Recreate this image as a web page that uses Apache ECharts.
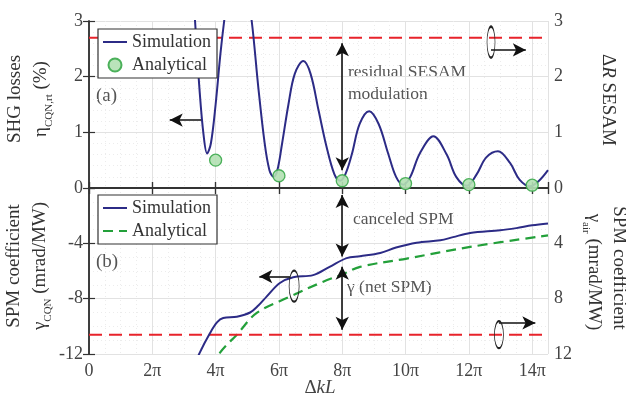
<!DOCTYPE html>
<html>
<head>
<meta charset="utf-8">
<script src="https://cdn.jsdelivr.net/npm/echarts@6/dist/echarts.min.js"></script>
<style>
  html, body { margin: 0; padding: 0; background: #fff; }
  #myChart { width: 626px; height: 400px; }
</style>
</head>
<body>
<div id="myChart"></div>
<script>
// x values are in units of pi (Delta k L / pi)
var xTicks = [0, 2, 4, 6, 8, 10, 12, 14];

// panel (a): SHG losses (%)
var shgSim = [
  [3.15, 4.8], [3.35, 3.0], [3.5, 1.7], [3.62, 0.95], [3.73, 0.62], [3.85, 0.8],
  [4.0, 1.5], [4.15, 2.4], [4.27, 3.0], [4.5, 4.0], [4.7, 4.3], [4.9, 3.9],
  [5.14, 3.0], [5.35, 1.8], [5.55, 0.8], [5.7, 0.32], [5.83, 0.2], [5.95, 0.32],
  [6.1, 0.8], [6.3, 1.5], [6.5, 2.05], [6.77, 2.28], [7.0, 2.05], [7.25, 1.4],
  [7.5, 0.75], [7.75, 0.25], [7.93, 0.13], [8.1, 0.25], [8.3, 0.6], [8.55, 1.15],
  [8.85, 1.38], [9.15, 1.15], [9.45, 0.62], [9.7, 0.2], [9.93, 0.06], [10.15, 0.2],
  [10.45, 0.62], [10.88, 0.93], [11.3, 0.6], [11.6, 0.2], [11.94, 0.04], [12.25, 0.25],
  [12.55, 0.55], [12.92, 0.66], [13.3, 0.45], [13.6, 0.15], [13.93, 0.03], [14.2, 0.12],
  [14.5, 0.32]
];
var shgAna = [[4, 0.5], [6, 0.22], [8, 0.13], [10, 0.08], [12, 0.06], [14, 0.05]];
var sesamTop = 2.7;

// panel (b): SPM coefficient (mrad/MW)
var spmSim = [
  [3.2, -13.5], [3.5, -11.9], [3.82, -10.5], [4.05, -9.7], [4.24, -9.4], [4.67, -9.3],
  [5.09, -9.0], [5.35, -8.5], [5.61, -7.85], [6.03, -6.87], [6.45, -6.45], [7.08, -6.3],
  [7.6, -5.7], [8.14, -5.07], [8.56, -4.93], [9.2, -4.7], [9.7, -4.3], [10.35, -3.95],
  [11.1, -3.78], [11.5, -3.55], [12.04, -3.25], [12.99, -3.06], [13.5, -2.9], [14.0, -2.7],
  [14.5, -2.56]
];
var spmAna = [
  [3.9, -13.0], [4.14, -11.9], [4.67, -10.6], [5.3, -9.03], [6.35, -7.85], [7.4, -6.77],
  [8.0, -6.25], [8.56, -5.7], [10.04, -5.1], [12.04, -4.26], [14.5, -3.42]
];
var sesamBottom = 10.6;

var serif = 'Liberation Serif';
var navy = '#2c2b86';
var green = '#23a03a';
var red = '#e8232b';

function piLabel(v) {
  return v === 0 ? '0' : v + 'π';
}

function xAx(grid, pos, labels) {
  return {
    type: 'value', gridIndex: grid, position: pos, min: 0, max: 14.5, interval: 2,
    axisLine: { show: true, lineStyle: { color: '#333', width: 1.5 } },
    axisTick: { show: true, inside: true, length: 6, lineStyle: { color: '#333', width: 1.2 } },
    axisLabel: { show: labels, formatter: piLabel, fontFamily: serif, fontSize: 18, color: '#444', margin: 8, showMaxLabel: false },
    splitLine: { show: pos === 'bottom', lineStyle: { color: '#e2e2e2', width: 1 } },
    minorTick: { show: pos === 'bottom', splitNumber: 4, length: 0 },
    minorSplitLine: { show: pos === 'bottom', lineStyle: { color: '#ececec', type: [1, 3] } }
  };
}

function yAx(grid, pos, min, max, inverse, hideMin, hideMax) {
  return {
    type: 'value', gridIndex: grid, position: pos, min: min, max: max, interval: grid === 0 ? 1 : 4,
    inverse: inverse,
    axisLine: { show: true, lineStyle: { color: '#333', width: 1.5 } },
    axisTick: { show: true, inside: true, length: 6, lineStyle: { color: '#333', width: 1.2 } },
    axisLabel: { fontFamily: serif, fontSize: 18, color: '#444', margin: 6, showMinLabel: !hideMin, showMaxLabel: !hideMax },
    splitLine: { show: pos === 'left', lineStyle: { color: '#e2e2e2', width: 1 } },
    minorTick: { show: pos === 'left', splitNumber: grid === 0 ? 5 : 4, length: 0 },
    minorSplitLine: { show: pos === 'left', lineStyle: { color: '#ececec', type: [1, 3] } }
  };
}

var arrowLine = { color: '#111', width: 1.6, type: 'solid' };
var ellipseStyle = { color: 'rgba(0,0,0,0)', borderColor: '#222', borderWidth: 1.3 };

var subStyle = { fontFamily: serif, fontSize: 11, fill: '#333', verticalAlign: 'bottom', padding: [12, 0, 0, 0] };
var mainStyle = { fontFamily: serif, fontSize: 19, fill: '#333', verticalAlign: 'top', lineHeight: 22 };

function vText(x, y, rot, text) {
  return {
    type: 'text', x: x, y: y, rotation: rot,
    style: {
      text: text, align: 'center', verticalAlign: 'middle',
      fontFamily: serif, fontSize: 19, fill: '#333',
      rich: { m: mainStyle, s: subStyle, i: { fontFamily: serif, fontSize: 19, fill: '#333', fontStyle: 'italic', verticalAlign: 'top', lineHeight: 22 } }
    }
  };
}

function note(x, y, text, size) {
  return {
    type: 'text', x: x, y: y,
    style: { text: text, fontFamily: serif, fontSize: size || 17.5, fill: '#555', verticalAlign: 'middle' }
  };
}

function legendBox(top, names) {
  return {
    data: names,
    formatter: function (n) { return n.replace(' (b)', ''); },
    left: 98, top: top, orient: 'vertical', itemWidth: 24, itemHeight: 13, itemGap: 5,
    padding: [4, 6, 4, 4], borderColor: '#333', borderWidth: 1.2, backgroundColor: '#fff',
    textStyle: { fontFamily: serif, fontSize: 18, color: '#333' }, selectedMode: false, z: 20
  };
}

var options = {
  backgroundColor: '#fff',
  animation: false,
  grid: [
    { left: 89, right: 78, top: 21, height: 167 },
    { left: 89, right: 78, top: 188, height: 166 }
  ],
  xAxis: [xAx(0, 'bottom', false), xAx(0, 'top', false), xAx(1, 'bottom', true), xAx(1, 'top', false)],
  yAxis: [
    yAx(0, 'left', 0, 3, false, false, false),
    yAx(0, 'right', 0, 3, false, false, false),
    yAx(1, 'left', -12, 0, false, false, true),
    yAx(1, 'right', 0, 12, true, true, false)
  ],
  legend: [
    legendBox(29, [{ name: 'Simulation', itemStyle: { opacity: 0 } }, { name: 'Analytical', icon: 'circle' }]),
    legendBox(195, [{ name: 'Simulation (b)', itemStyle: { opacity: 0 } }, { name: 'Analytical (b)', itemStyle: { opacity: 0 } }])
  ],
  series: [
    {
      name: 'Simulation', type: 'line', xAxisIndex: 0, yAxisIndex: 0, data: shgSim,
      symbol: 'none', smooth: 0.35, color: navy, lineStyle: { color: navy, width: 2 }, z: 3,
      markLine: {
        silent: true, symbol: ['arrow', 'arrow'], symbolSize: [10, 13], label: { show: false },
        lineStyle: arrowLine,
        data: [
          [{ coord: [8, 2.6] }, { coord: [8, 0.32] }],
          [{ coord: [3.54, 1.22], symbol: 'none' }, { coord: [2.55, 1.22] }]
        ]
      }
    },
    {
      name: 'Analytical', type: 'scatter', xAxisIndex: 0, yAxisIndex: 0, data: shgAna,
      symbolSize: 12, color: '#b3e0b3',
      itemStyle: { color: '#b3e0b3', borderColor: '#3aa84a', borderWidth: 1.3, opacity: 0.9 }, z: 4
    },
    {
      name: 'sesamA', type: 'line', xAxisIndex: 0, yAxisIndex: 1,
      data: [[0, sesamTop], [14.5, sesamTop]], symbol: 'none',
      lineStyle: { color: red, width: 2, type: [13, 7] }, z: 2,
      markLine: {
        silent: true, symbol: ['none', 'arrow'], symbolSize: [10, 13], label: { show: false },
        lineStyle: arrowLine,
        data: [[{ coord: [12.7, 2.48] }, { coord: [13.8, 2.48] }]]
      },
      markPoint: {
        silent: true, label: { show: false }, itemStyle: ellipseStyle,
        data: [{ coord: [12.7, 2.62], symbol: 'circle', symbolSize: [8, 31] }]
      }
    },
    {
      name: 'Simulation (b)', type: 'line', xAxisIndex: 2, yAxisIndex: 2, data: spmSim,
      symbol: 'none', smooth: 0.35, color: navy, lineStyle: { color: navy, width: 2 }, z: 3,
      markLine: {
        silent: true, symbol: ['arrow', 'arrow'], symbolSize: [10, 13], label: { show: false },
        lineStyle: arrowLine,
        data: [
          [{ coord: [8, -0.5] }, { coord: [8, -4.95] }],
          [{ coord: [8, -5.7] }, { coord: [8, -10.25] }],
          [{ coord: [6.35, -6.4], symbol: 'none' }, { coord: [5.38, -6.4] }]
        ]
      },
      markPoint: {
        silent: true, label: { show: false }, itemStyle: ellipseStyle,
        data: [{ coord: [6.48, -7.1], symbol: 'circle', symbolSize: [10, 31] }]
      }
    },
    {
      name: 'Analytical (b)', type: 'line', xAxisIndex: 2, yAxisIndex: 2, data: spmAna,
      symbol: 'none', smooth: 0.35, color: green, lineStyle: { color: green, width: 2.2, type: [10, 6] }, z: 2
    },
    {
      name: 'sesamB', type: 'line', xAxisIndex: 2, yAxisIndex: 3,
      data: [[0, sesamBottom], [14.5, sesamBottom]], symbol: 'none',
      lineStyle: { color: red, width: 2, type: [13, 7] }, z: 2,
      markLine: {
        silent: true, symbol: ['none', 'arrow'], symbolSize: [10, 13], label: { show: false },
        lineStyle: arrowLine,
        data: [[{ coord: [12.95, 9.75] }, { coord: [14.1, 9.75] }]]
      },
      markPoint: {
        silent: true, label: { show: false }, itemStyle: ellipseStyle,
        data: [{ coord: [12.95, sesamBottom], symbol: 'circle', symbolSize: [9, 27] }]
      }
    }
  ],
  graphic: [
    note(96, 96, '(a)', 19),
    note(96, 262, '(b)', 19),
    note(348, 72, 'residual SESAM'),
    note(348, 94, 'modulation'),
    note(353, 219, 'canceled SPM'),
    note(347, 287, 'γ (net SPM)'),
    vText(17, 99, Math.PI / 2, '{m|SHG losses}'),
    vText(43, 99, Math.PI / 2, '{m|η}{s|CQN,rt}{m| (%)}'),
    vText(16, 266, Math.PI / 2, '{m|SPM coefficient}'),
    vText(42, 266, Math.PI / 2, '{m|γ}{s|CQN}{m| (mrad/MW)}'),
    vText(606, 100, -Math.PI / 2, '{m|Δ}{i|R}{m| SESAM}'),
    vText(617, 268, -Math.PI / 2, '{m|SPM coefficient}'),
    vText(592, 272, -Math.PI / 2, '{m|γ}{s|air}{m| (mrad/MW)}'),
    {
      type: 'text', x: 320, y: 388,
      style: {
        text: '{m|Δ}{i|kL}', align: 'center', verticalAlign: 'middle',
        rich: {
          m: { fontFamily: serif, fontSize: 19, fill: '#444' },
          i: { fontFamily: serif, fontSize: 19, fill: '#444', fontStyle: 'italic' }
        }
      }
    }
  ]
};

var myChart = echarts.init(document.getElementById('myChart'));
myChart.setOption(options);
</script>
</body>
</html>
